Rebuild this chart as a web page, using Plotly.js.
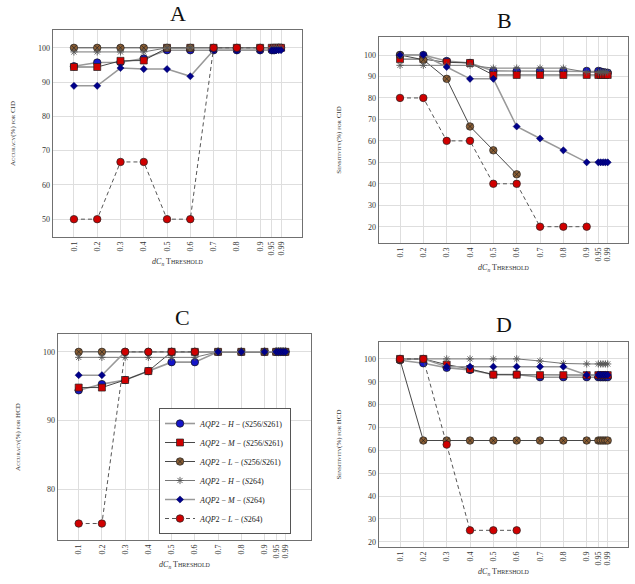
<!DOCTYPE html>
<html>
<head>
<meta charset="utf-8">
<script src="https://cdn.plot.ly/plotly-3.0.1.min.js"></script>
<style>
  body { margin: 0; background: #fff; }
  #chart { width: 635px; height: 584px; }
</style>
</head>
<body>
<div id="chart"></div>
<script>
// thresholds (dCn), the last five are squeezed together near 1
const thresholds = [0.1, 0.2, 0.3, 0.4, 0.5, 0.6, 0.7, 0.8, 0.9, 0.95, 0.96, 0.97, 0.98, 0.99];
const tickVals = [0.1, 0.2, 0.3, 0.4, 0.5, 0.6, 0.7, 0.8, 0.9, 0.95, 0.99];
const tickText = ['0.1', '0.2', '0.3', '0.4', '0.5', '0.6', '0.7', '0.8', '0.9', '0.95', '0.99'];

const seriesNames = [
  '<i>AQP</i>2 − <i>H</i> − (<i>S</i>256/<i>S</i>261)',
  '<i>AQP</i>2 − <i>M</i> − (<i>S</i>256/<i>S</i>261)',
  '<i>AQP</i>2 − <i>L</i> − (<i>S</i>256/<i>S</i>261)',
  '<i>AQP</i>2 − <i>H</i> − (<i>S</i>264)',
  '<i>AQP</i>2 − <i>M</i> − (<i>S</i>264)',
  '<i>AQP</i>2 − <i>L</i> − (<i>S</i>264)'
];

// A : accuracy CID
const accCidH  = [94.6, 95.7, 95.8, 96.9, 99.3, 99.3, 99.3, 99.3, 99.3, 99.3, 99.3, 99.6, 100, 100];
const accCidM  = [94.4, 94.4, 96.2, 96.3, 100, 100, 100, 100, 100, 100, 100, 100, 100, 100];
const accCidL  = [100, 100, 100, 100, 100, 100, null, null, null, null, null, null, null, null];
const accCidHs = [98.8, 98.8, 98.8, 98.8, 100, 100, 100, 100, 100, 100, 100, 100, 100, 100];
const accCidMs = [88.9, 88.9, 94.1, 93.8, 93.8, 91.7, 99.3, 99.3, 99.3, 99.3, 99.3, 99.3, 99.3, 99.3];
const accCidLs = [50, 50, 66.7, 66.7, 50, 50, 100, 100, 100, null, null, null, null, null];

// B : sensitivity CID
const senCidH  = [100, 100, 97.2, 96.3, 92.6, 92.6, 92.6, 92.6, 92.6, 92.6, 92.3, 92.0, 91.8, 91.7];
const senCidM  = [98.1, 98.1, 96.6, 96.3, 90.7, 90.7, 90.7, 90.7, 90.7, 90.7, 90.7, 90.7, 90.7, 90.7];
const senCidL  = [100, 97.8, 88.9, 66.7, 55.6, 44.4, null, null, null, null, null, null, null, null];
const senCidHs = [95.2, 95.2, 95.2, 95.2, 93.9, 93.9, 93.9, 93.9, 92.0, 92.0, 92.0, 92.0, 92.0, 92.0];
const senCidMs = [100, 100, 94.4, 88.9, 88.9, 66.7, 61.1, 55.6, 50, 50, 50, 50, 50, 50];
const senCidLs = [80, 80, 60, 60, 40, 40, 20, 20, 20, null, null, null, null, null];

// C : accuracy HCD
const accHcdH  = [94.4, 95.3, 95.9, 97.2, 98.5, 98.5, 100, 100, 100, 100, 100, 100, 100, 100];
const accHcdM  = [94.8, 94.8, 95.9, 97.2, 100, 100, 100, 100, 100, 100, 100, 100, 100, 100];
const accHcdL  = [100, 100, 100, 100, 100, 100, 100, 100, 100, 100, 100, 100, 100, 100];
const accHcdHs = [99.2, 99.2, 99.2, 99.2, 99.2, 99.2, 100, 100, 100, 100, 100, 100, 100, 100];
const accHcdMs = [96.6, 96.6, 100, 100, 100, 100, 100, 100, 100, 100, 100, 100, 100, 100];
const accHcdLs = [75, 75, 100, 100, 100, 100, null, null, null, null, null, null, null, null];

// D : sensitivity HCD
const senHcdH  = [99.4, 98.1, 96.1, 95.2, 93.2, 93.2, 92, 92, 92, 92, 92, 92, 92, 92];
const senHcdM  = [100, 100, 97.5, 95.6, 93.1, 93.1, 92.9, 92.9, 92.9, 92.9, 92.9, 92.9, 92.9, 92.9];
const senHcdL  = [99.6, 64.3, 64.3, 64.3, 64.3, 64.3, 64.3, 64.3, 64.3, 64.3, 64.3, 64.3, 64.3, 64.3];
const senHcdHs = [100, 100, 100, 100, 100, 100, 99.1, 98, 97.8, 97.8, 97.8, 97.8, 97.8, 97.8];
const senHcdMs = [100, 100, 96.6, 96.6, 96.6, 96.6, 96.6, 96.6, 93, 93, 93, 93, 93, 93];
const senHcdLs = [100, 100, 62.5, 25, 25, 25, null, null, null, null, null, null, null, null];

const serif = 'Liberation Serif, DejaVu Serif, serif';

// marker + line style of each series, same order as seriesNames
const styles = [
  {marker: {symbol: 'circle', size: 7.5, color: '#1515c8', line: {color: '#111', width: 0.7}}, line: {color: '#999', width: 1.6}},
  {marker: {symbol: 'square', size: 7, color: '#d00000', line: {color: '#222', width: 0.7}}, line: {color: '#333', width: 0.9}},
  {marker: {symbol: 'circle-x', size: 7.5, color: '#8b5e34', line: {color: '#222', width: 0.7}}, line: {color: '#333', width: 0.9}},
  {marker: {symbol: 'asterisk-open', size: 6, color: '#555', line: {color: '#555', width: 0.9}}, line: {color: '#777', width: 1}},
  {marker: {symbol: 'diamond', size: 5.5, color: '#00008b', line: {color: '#00005a', width: 0.5}}, line: {color: '#999', width: 1.5}},
  {marker: {symbol: 'circle', size: 7.5, color: '#d00000', line: {color: '#222', width: 0.7}}, line: {color: '#555', width: 1, dash: '4px,3px'}}
];

const panels = [
  {ax: '', data: [accCidH, accCidM, accCidL, accCidHs, accCidMs, accCidLs]},
  {ax: '2', data: [senCidH, senCidM, senCidL, senCidHs, senCidMs, senCidLs]},
  {ax: '3', data: [accHcdH, accHcdM, accHcdL, accHcdHs, accHcdMs, accHcdLs]},
  {ax: '4', data: [senHcdH, senHcdM, senHcdL, senHcdHs, senHcdMs, senHcdLs]}
];

const traces = [];
panels.forEach(p => {
  p.data.forEach((ys, i) => {
    traces.push({
      x: thresholds,
      y: ys,
      xaxis: 'x' + p.ax,
      yaxis: 'y' + p.ax,
      type: 'scatter',
      mode: 'lines+markers',
      name: seriesNames[i],
      legendgroup: 's' + i,
      showlegend: p.ax === '3',
      marker: styles[i].marker,
      line: styles[i].line,
      cliponaxis: false
    });
  });
});

const W = 635, H = 584;
const dx = (a, b) => [a / W, b / W];
const dy = (top, bottom) => [1 - bottom / H, 1 - top / H];

function xAxis(domain, anchor, range) {
  return {
    domain: domain, anchor: anchor, range: range,
    tickmode: 'array', tickvals: tickVals, ticktext: tickText, tickangle: -90,
    showgrid: true, gridcolor: '#dedede', gridwidth: 1, zeroline: false,
    showline: true, linecolor: '#707070', linewidth: 1.3, mirror: true, ticks: '',
    tickfont: {family: serif, size: 8, color: '#333'},
    title: {text: '<i>dC</i><sub><i>n</i></sub> T<span style="font-size:6px">HRESHOLD</span>',
            font: {family: serif, size: 8, color: '#333'}, standoff: 4}
  };
}

function yAxis(domain, anchor, range, dtick, label) {
  return {
    domain: domain, anchor: anchor, range: range, dtick: dtick, tick0: 0,
    showgrid: true, gridcolor: '#dedede', gridwidth: 1, zeroline: false,
    showline: true, linecolor: '#707070', linewidth: 1.3, mirror: true, ticks: '',
    tickfont: {family: serif, size: 8, color: '#333'},
    title: {text: label, font: {family: serif, size: 7, color: '#333'}, standoff: 21}
  };
}

function smallCaps(word) {
  return word[0] + '<span style="font-size:5px">' + word.slice(1).toUpperCase() + '</span>';
}

const forWord = ' <span style="font-size:5px">FOR</span> ';
const accCid = smallCaps('Accuracy') + '(%)' + forWord + 'CID';
const senCid = smallCaps('Sensitivity') + '(%)' + forWord + 'CID';
const accHcd = smallCaps('Accuracy') + '(%)' + forWord + 'HCD';
const senHcd = smallCaps('Sensitivity') + '(%)' + forWord + 'HCD';

const panelTitle = (text, x, y) => ({
  text: text, xref: 'paper', yref: 'paper', x: x / W, y: 1 - y / H,
  xanchor: 'center', yanchor: 'middle',
  showarrow: false, font: {family: serif, size: 22, color: '#111'}
});

const layout = {
  width: W, height: H,
  margin: {l: 0, r: 0, t: 0, b: 0},
  paper_bgcolor: '#fff', plot_bgcolor: '#fff',
  showlegend: true,
  legend: {
    x: 159 / W, y: 1 - 534 / H, xanchor: 'left', yanchor: 'bottom',
    bgcolor: '#fff', bordercolor: '#555', borderwidth: 1,
    font: {family: serif, size: 8, color: '#222'}, itemwidth: 30, tracegroupgap: 0
  },
  xaxis:  xAxis(dx(53, 302), 'y', [0.01, 1.08]),
  yaxis:  yAxis(dy(30, 237), 'x', [44.8, 105.2], 10, accCid),
  xaxis2: xAxis(dx(379, 628), 'y2', [0.01, 1.077]),
  yaxis2: yAxis(dy(37, 243), 'x2', [12.4, 108.4], 10, senCid),
  xaxis3: xAxis(dx(58, 311), 'y3', [0.011, 1.1]),
  yaxis3: yAxis(dy(334, 540), 'x3', [72.6, 102.6], 10, accHcd),
  xaxis4: xAxis(dx(379, 628), 'y4', [0.01, 1.077]),
  yaxis4: yAxis(dy(342, 547), 'x4', [17.7, 107.4], 10, senHcd),
  annotations: [
    panelTitle('A', 178, 14),
    panelTitle('B', 504, 21),
    panelTitle('C', 182, 317),
    panelTitle('D', 504, 324)
  ]
};

Plotly.newPlot('chart', traces, layout, {displayModeBar: false, staticPlot: true});
</script>
</body>
</html>
